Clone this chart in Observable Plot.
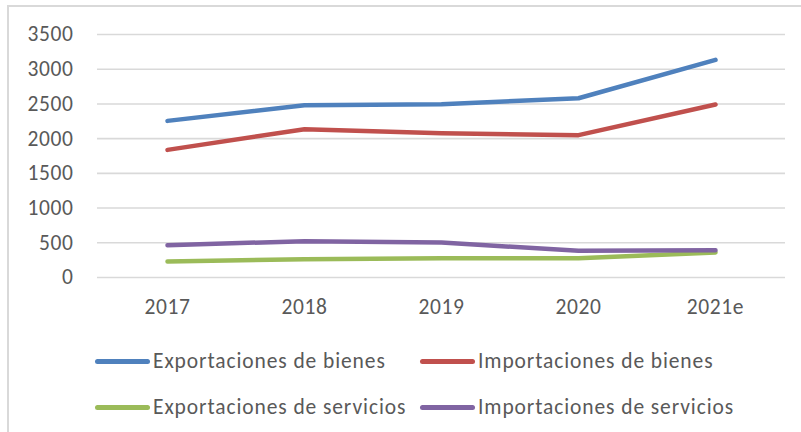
<!DOCTYPE html>
<html>
<head>
<meta charset="utf-8">
<script src="https://cdn.jsdelivr.net/npm/d3@7"></script>
<script src="https://cdn.jsdelivr.net/npm/@observablehq/plot@0.6"></script>
<style>
  html, body { margin: 0; padding: 0; background: #fff; overflow: hidden; width: 801px; height: 432px; }
  body { position: relative; font-family: Carlito, Calibri, Lato, sans-serif; color: #595959; }
  #frame { position: absolute; left: 7px; top: 5px; width: 900px; height: 600px; border: 2px solid #d9d9d9; box-sizing: border-box; }
  #chart { position: absolute; left: 0; top: 0; }
  .leg { position: absolute; display: flex; align-items: center; font-size: 21.5px; letter-spacing: 0.9px; color: #595959; white-space: nowrap; }
  .sw { width: 55px; height: 5px; border-radius: 3px; margin-right: 3px; }
</style>
</head>
<body>
<div id="frame"></div>
<div id="chart"></div>
<div id="legend"></div>
<script>
const years = ["2017", "2018", "2019", "2020", "2021e"];
const seriesNames = ["Exportaciones de bienes", "Importaciones de bienes", "Exportaciones de servicios", "Importaciones de servicios"];
const exportBienes = [2256, 2482, 2496, 2582, 3134];
const importBienes = [1838, 2136, 2078, 2050, 2491];
const exportServicios = [230, 264, 278, 278, 360];
const importServicios = [466, 523, 504, 384, 394];
const yTicks = [0, 500, 1000, 1500, 2000, 2500, 3000, 3500];
const colors = ["#4F81BD", "#C0504D", "#9BBB59", "#8064A2"];

const allSeries = [exportBienes, importBienes, exportServicios, importServicios];
const data = [];
allSeries.forEach((vals, i) => vals.forEach((v, j) => data.push({serie: seriesNames[i], year: years[j], value: v})));

const chart = Plot.plot({
  width: 801,
  height: 340,
  marginTop: 34,
  marginBottom: 63,
  marginLeft: 97,
  marginRight: 16,
  style: {fontFamily: "Carlito, Calibri, Lato, sans-serif", fontSize: "21.5px", letterSpacing: "0.6px", color: "#595959", background: "transparent"},
  x: {type: "point", domain: years, padding: 0.5, label: null},
  y: {domain: [0, 3500], label: null},
  color: {domain: seriesNames, range: colors},
  marks: [
    Plot.gridY(yTicks, {stroke: "#d9d9d9", strokeOpacity: 1, strokeWidth: 1.6}),
    Plot.axisY(yTicks, {tickSize: 0, tickPadding: 24, label: null, tickFormat: d => String(d)}),
    Plot.axisX({tickSize: 0, tickPadding: 21, label: null}),
    Plot.line(data, {x: "year", y: "value", z: "serie", stroke: "serie", strokeWidth: 4.5, strokeLinecap: "round", strokeLinejoin: "round"})
  ]
});
document.getElementById("chart").appendChild(chart);

const legend = document.getElementById("legend");
const pos = [[95, 361], [420, 361], [95, 407], [420, 407]];
seriesNames.forEach((name, i) => {
  const d = document.createElement("div");
  d.className = "leg";
  d.style.left = pos[i][0] + "px";
  d.style.top = (pos[i][1] - 14) + "px";
  d.style.height = "28px";
  const sw = document.createElement("span");
  sw.className = "sw";
  sw.style.background = colors[i];
  const t = document.createElement("span");
  t.textContent = name;
  d.appendChild(sw);
  d.appendChild(t);
  legend.appendChild(d);
});
</script>
</body>
</html>
